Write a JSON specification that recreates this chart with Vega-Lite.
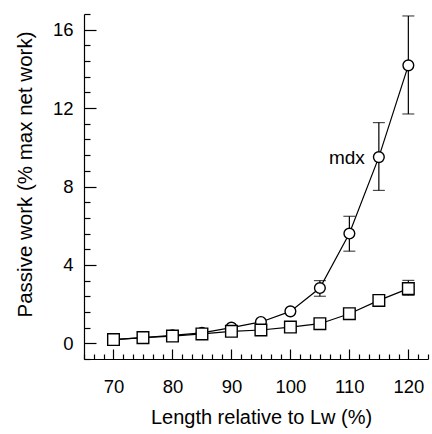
{
  "$schema": "https://vega.github.io/schema/vega-lite/v6.json",
  "width": 344,
  "height": 345,
  "autosize": {"type": "none"},
  "padding": {"left": 84, "top": 14, "right": 4, "bottom": 75},
  "background": "white",
  "config": {
    "view": {"stroke": null},
    "font": "Liberation Sans",
    "axis": {
      "grid": false,
      "domainColor": "black",
      "domainWidth": 1.2,
      "tickColor": "black",
      "tickWidth": 1.2,
      "labelColor": "black",
      "titleColor": "black",
      "labelFontSize": 18.5,
      "titleFontSize": 20,
      "titleFontWeight": "normal",
      "labelFont": "Liberation Sans",
      "titleFont": "Liberation Sans"
    }
  },
  "datasets": {
    "work": [
      {"length": 70, "group": "mdx", "work": 0.19},
      {"length": 75, "group": "mdx", "work": 0.29},
      {"length": 80, "group": "mdx", "work": 0.41},
      {"length": 85, "group": "mdx", "work": 0.53},
      {"length": 90, "group": "mdx", "work": 0.8},
      {"length": 95, "group": "mdx", "work": 1.09},
      {"length": 100, "group": "mdx", "work": 1.63},
      {"length": 105, "group": "mdx", "work": 2.82, "lo": 2.4, "hi": 3.2},
      {"length": 110, "group": "mdx", "work": 5.6, "lo": 4.7, "hi": 6.48},
      {"length": 115, "group": "mdx", "work": 9.5, "lo": 7.8, "hi": 11.26},
      {"length": 120, "group": "mdx", "work": 14.18, "lo": 11.7, "hi": 16.7},
      {"length": 70, "group": "control", "work": 0.19},
      {"length": 75, "group": "control", "work": 0.29},
      {"length": 80, "group": "control", "work": 0.37},
      {"length": 85, "group": "control", "work": 0.48},
      {"length": 90, "group": "control", "work": 0.61},
      {"length": 95, "group": "control", "work": 0.68},
      {"length": 100, "group": "control", "work": 0.83},
      {"length": 105, "group": "control", "work": 1.0},
      {"length": 110, "group": "control", "work": 1.51},
      {"length": 115, "group": "control", "work": 2.19},
      {"length": 120, "group": "control", "work": 2.79, "lo": 2.45, "hi": 3.21}
    ]
  },
  "data": {"name": "work"},
  "encoding": {
    "x": {
      "field": "length",
      "type": "quantitative",
      "title": "Length relative to Lw (%)",
      "scale": {"domain": [65, 123.3333], "nice": false, "zero": false},
      "axis": {
        "values": [65, 66.6667, 68.3333, 70, 71.6667, 73.3333, 75, 76.6667, 78.3333, 80, 81.6667, 83.3333, 85, 86.6667, 88.3333, 90, 91.6667, 93.3333, 95, 96.6667, 98.3333, 100, 101.6667, 103.3333, 105, 106.6667, 108.3333, 110, 111.6667, 113.3333, 115, 116.6667, 118.3333, 120, 121.6667, 123.3333],
        "labelExpr": "abs(datum.value - round(datum.value / 10) * 10) < 0.01 ? format(datum.value, 'd') : ''",
        "tickSize": {"condition": {"test": "abs(datum.value - round(datum.value / 10) * 10) < 0.01", "value": -10}, "value": -5},
        "labelPadding": 28,
        "labelFlush": false,
        "labelOverlap": false,
        "titleX": 177,
        "titleY": 64,
        "titleBaseline": "alphabetic",
        "titleAnchor": "middle",
        "titleAlign": "center"
      }
    },
    "y": {
      "field": "work",
      "type": "quantitative",
      "title": "Passive work (% max net work)",
      "scale": {"domain": [-0.8, 16.8], "nice": false, "zero": false},
      "axis": {
        "values": [-0.8, 0, 0.8, 1.6, 2.4, 3.2, 4, 4.8, 5.6, 6.4, 7.2, 8, 8.8, 9.6, 10.4, 11.2, 12, 12.8, 13.6, 14.4, 15.2, 16, 16.8],
        "labelExpr": "abs(datum.value - round(datum.value / 4) * 4) < 0.01 ? format(datum.value, 'd') : ''",
        "tickSize": {"condition": {"test": "abs(datum.value - round(datum.value / 4) * 4) < 0.01", "value": -12}, "value": -6},
        "labelPadding": 23,
        "labelFlush": false,
        "labelOverlap": false,
        "titleFontSize": 20.5,
        "titleX": -59,
        "titleY": 160,
        "titleBaseline": "middle",
        "titleAlign": "center",
        "titleAngle": -90
      }
    }
  },
  "layer": [
    {
      "mark": {"type": "line", "color": "black", "strokeWidth": 1.2},
      "encoding": {"detail": {"field": "group"}}
    },
    {
      "transform": [{"filter": "isValid(datum.hi)"}],
      "mark": {"type": "rule", "color": "black", "strokeWidth": 1.2},
      "encoding": {
        "y": {"field": "lo", "type": "quantitative", "title": "Passive work (% max net work)"},
        "y2": {"field": "hi"}
      }
    },
    {
      "transform": [{"filter": "isValid(datum.hi)"}],
      "mark": {"type": "tick", "orient": "horizontal", "color": "black", "size": 12, "thickness": 1.2},
      "encoding": {"y": {"field": "hi", "type": "quantitative", "title": "Passive work (% max net work)"}}
    },
    {
      "transform": [{"filter": "isValid(datum.lo)"}],
      "mark": {"type": "tick", "orient": "horizontal", "color": "black", "size": 12, "thickness": 1.2},
      "encoding": {"y": {"field": "lo", "type": "quantitative", "title": "Passive work (% max net work)"}}
    },
    {
      "transform": [{"filter": "datum.group === 'mdx'"}],
      "mark": {"type": "point", "shape": "circle", "size": 115, "filled": true, "fill": "white", "stroke": "black", "strokeWidth": 1.4, "opacity": 1}
    },
    {
      "transform": [{"filter": "datum.group === 'control'"}],
      "mark": {"type": "point", "shape": "square", "size": 135, "filled": true, "fill": "white", "stroke": "black", "strokeWidth": 1.4, "opacity": 1}
    },
    {
      "data": {"values": [{"length": 115, "work": 9.5, "label": "mdx"}]},
      "mark": {"type": "text", "align": "right", "baseline": "middle", "dx": -14, "dy": 1, "fontSize": 19, "font": "Liberation Sans", "color": "black"},
      "encoding": {"text": {"field": "label"}}
    }
  ]
}
